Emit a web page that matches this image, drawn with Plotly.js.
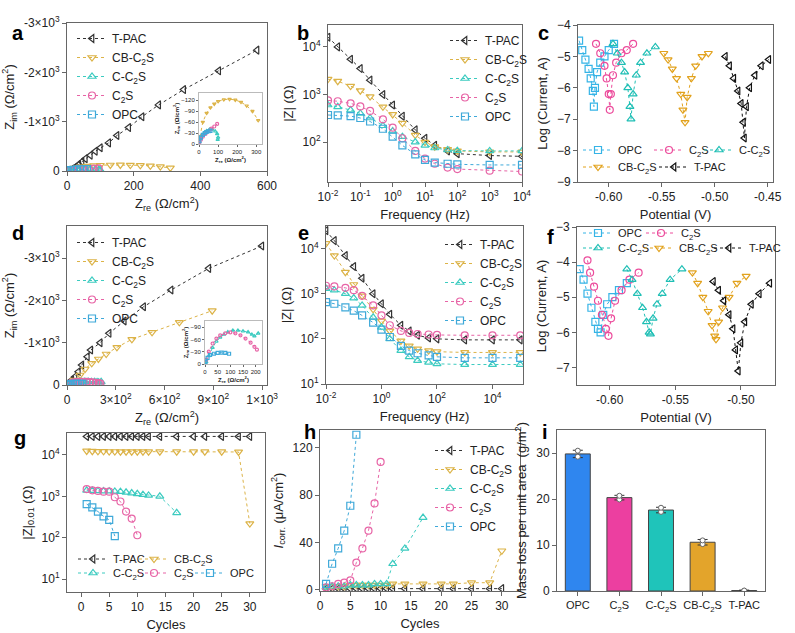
<!DOCTYPE html>
<html>
<head>
<meta charset="utf-8">
<script src="https://cdn.plot.ly/plotly-3.0.1.min.js"></script>
<style>body{margin:0;background:#fff}#fig{width:795px;height:633px}</style>
</head>
<body>
<div id="fig"></div>
<script>
// ---- data ----
const names = ['T-PAC', 'CB-C<sub>2</sub>S', 'C-C<sub>2</sub>S', 'C<sub>2</sub>S', 'OPC'];

// a: Nyquist, 28 d
const aTpacRe = [15, 25, 35, 45, 55, 70, 85, 100, 125, 150, 185, 225, 275, 350, 455, 570];
const aTpacIm = [-40, -80, -130, -190, -250, -320, -400, -470, -570, -720, -880, -1100, -1340, -1650, -2030, -2450];
const aCbRe = [5, 20, 40, 60, 80, 100, 130, 160, 190, 220, 250, 280, 310];
const aCbIm = [-20, -60, -85, -100, -110, -117, -122, -123, -121, -115, -105, -90, -65];
const aCRe = [2, 10, 20, 30, 40, 55, 70, 85, 95, 100, 98];
const aCIm = [-5, -15, -25, -32, -36, -40, -40, -35, -28, -18, -12];
const aC2sRe = [2, 10, 20, 35, 50, 65, 80, 95];
const aC2sIm = [-5, -12, -20, -28, -35, -42, -48, -55];
const aOpcRe = [2, 10, 20, 30, 40, 50, 60];
const aOpcIm = [-8, -18, -25, -30, -33, -35, -36];

// d: Nyquist, after cycles
const dTpacRe = [29, 49, 70, 91, 125, 146, 204, 259, 352, 471, 640, 872, 1198];
const dTpacIm = [-118, -197, -315, -473, -670, -827, -1000, -1222, -1513, -1851, -2246, -2758, -3286];
const dCbRe = [43, 80, 111, 152, 193, 241, 307, 399, 523, 691, 893];
const dCbIm = [-118, -236, -378, -513, -615, -733, -891, -1080, -1246, -1482, -1757];
const dCRe = [5, 15, 30, 45, 60, 75, 90, 110, 130, 150, 170, 185, 195, 210];
const dCIm = [-5, -20, -40, -55, -65, -72, -78, -82, -82, -80, -78, -72, -68, -75];
const dC2sRe = [5, 15, 30, 45, 60, 80, 100, 120, 140, 160, 180, 195, 205];
const dC2sIm = [-10, -30, -50, -62, -70, -75, -77, -75, -70, -62, -52, -42, -35];
const dOpcRe = [2, 10, 20, 35, 50, 65, 80, 95];
const dOpcIm = [-5, -15, -22, -25, -27, -28, -27, -25];

// b: Bode
const bFreq = [0.01, 0.02, 0.05, 0.1, 0.2, 0.5, 1, 2, 5, 10, 20, 50, 100, 1000, 10000];
const bTpac = [16000, 10000, 5500, 3500, 2000, 1000, 600, 350, 180, 120, 85, 65, 57, 52, 50];
const bCb = [2100, 1900, 1500, 1200, 900, 550, 380, 250, 140, 100, 80, 70, 65, 62, 62];
const bC = [600, 550, 470, 400, 320, 220, 170, 130, 100, 85, 75, 68, 66, 65, 65];
const bC2s = [750, 720, 650, 560, 450, 300, 200, 120, 65, 45, 35, 29, 27, 25, 24];
const bOpc = [370, 365, 350, 320, 270, 190, 130, 85, 55, 42, 37, 35, 34, 33, 33];

// e: Bode
const eFreq = [0.01, 0.02, 0.05, 0.1, 0.2, 0.5, 1, 2, 5, 10, 20, 50, 100, 1000, 10000, 100000];
const eTpac = [25000, 15000, 7000, 4000, 2200, 1000, 600, 350, 200, 150, 120, 105, 100, 95, 95, 95];
const eCb = [13000, 7000, 3000, 1600, 900, 450, 250, 150, 90, 70, 60, 55, 52, 50, 50, 50];
const eC = [1300, 1200, 1000, 800, 550, 300, 180, 100, 55, 40, 33, 30, 28, 27, 27, 27];
const eC2s = [1500, 1450, 1350, 1200, 900, 550, 330, 200, 150, 135, 128, 125, 122, 120, 120, 120];
const eOpc = [650, 600, 500, 420, 330, 230, 160, 110, 70, 55, 48, 43, 40, 38, 38, 38];

// c: Tafel
const cOpcV = [-0.628, -0.625, -0.622, -0.619, -0.617, -0.615, -0.614, -0.613, -0.611, -0.608, -0.604, -0.600, -0.595];
const cOpcI = [-4.5, -4.8, -5.1, -5.4, -5.7, -6.1, -6.6, -6.0, -5.5, -5.2, -5.0, -4.8, -4.6];
const cC2sV = [-0.612, -0.608, -0.604, -0.602, -0.600, -0.599, -0.598, -0.596, -0.593, -0.588, -0.583, -0.577];
const cC2sI = [-4.6, -4.9, -5.3, -5.7, -6.2, -6.7, -6.2, -5.6, -5.2, -4.9, -4.8, -4.6];
const cCV = [-0.596, -0.592, -0.588, -0.585, -0.582, -0.580, -0.579, -0.577, -0.574, -0.570, -0.564, -0.556];
const cCI = [-4.6, -4.9, -5.2, -5.5, -6.0, -6.6, -7.0, -6.2, -5.6, -5.2, -4.9, -4.7];
const cCbV = [-0.548, -0.544, -0.540, -0.536, -0.532, -0.530, -0.528, -0.526, -0.522, -0.518, -0.512, -0.506];
const cCbI = [-4.9, -5.1, -5.4, -5.7, -6.2, -6.7, -7.1, -6.3, -5.7, -5.3, -5.0, -4.9];
const cTpacV = [-0.490, -0.486, -0.482, -0.478, -0.475, -0.473, -0.472, -0.470, -0.467, -0.462, -0.456, -0.449];
const cTpacI = [-5.0, -5.3, -5.7, -6.1, -6.5, -7.1, -7.6, -6.6, -6.0, -5.6, -5.3, -5.1];

// f: Tafel
const fOpcV = [-0.623, -0.620, -0.617, -0.614, -0.611, -0.609, -0.607, -0.605, -0.602, -0.598, -0.593, -0.587];
const fOpcI = [-4.2, -4.5, -4.9, -5.3, -5.7, -5.9, -6.0, -5.5, -5.2, -5.0, -4.8, -4.6];
const fC2sV = [-0.617, -0.615, -0.612, -0.609, -0.606, -0.603, -0.601, -0.599, -0.596, -0.591, -0.585, -0.578];
const fC2sI = [-3.95, -4.3, -4.7, -5.1, -5.5, -5.9, -6.1, -5.6, -5.1, -4.8, -4.5, -4.3];
const fCV = [-0.587, -0.583, -0.579, -0.575, -0.572, -0.570, -0.569, -0.567, -0.564, -0.560, -0.554, -0.545];
const fCI = [-4.2, -4.5, -4.9, -5.3, -5.7, -6.0, -6.05, -5.6, -5.2, -4.9, -4.5, -4.2];
const fCbV = [-0.537, -0.533, -0.529, -0.525, -0.522, -0.520, -0.519, -0.517, -0.514, -0.509, -0.503, -0.496];
const fCbI = [-4.3, -4.6, -5.0, -5.4, -5.8, -6.1, -6.2, -5.7, -5.3, -5.0, -4.6, -4.4];
const fTpacV = [-0.521, -0.517, -0.513, -0.509, -0.506, -0.504, -0.502, -0.500, -0.497, -0.492, -0.486, -0.478];
const fTpacI = [-4.55, -4.8, -5.1, -5.5, -5.9, -6.5, -7.1, -6.3, -5.7, -5.2, -4.9, -4.6];

// g, h: evolution with cycles
const cycLong = [1, 2, 3, 4, 5, 6, 7, 8, 9, 10, 11, 12, 14, 17, 20, 22, 25, 28, 30];
const cycC = [1, 2, 3, 4, 5, 6, 7, 8, 9, 10, 11, 12, 14, 17];
const cycC2s = [1, 2, 3, 4, 5, 6, 7, 8, 9, 10];
const cycOpc = [1, 2, 3, 4, 5, 6];
const gTpac = [28000, 28000, 28000, 28000, 28000, 28000, 28000, 28000, 28000, 28000, 28000, 28000, 28000, 28000, 28000, 28000, 28000, 28000, 28000];
const gCb = [12500, 12300, 12200, 12200, 12100, 12100, 12000, 12000, 12000, 12000, 12000, 12000, 12000, 12000, 12000, 12000, 12000, 11800, 220];
const gC = [1400, 1380, 1350, 1340, 1330, 1320, 1300, 1250, 1200, 1150, 1100, 1050, 1000, 400];
const gC2s = [1500, 1400, 1350, 1300, 1300, 950, 750, 430, 290, 115];
const gOpc = [650, 540, 430, 330, 270, 110];
const hTpac = [1, 1, 1, 1, 1, 1, 1, 1, 1, 1, 1, 1, 1, 1, 1, 1, 1, 1, 1];
const hCb = [3, 3, 3, 3, 4, 4, 4, 4, 4, 4, 4, 5, 5, 5, 5, 5, 6, 6, 33];
const hC = [2, 3, 3, 3, 4, 4, 4, 4, 5, 5, 5, 22, 35, 61];
const hC2s = [2, 3, 5, 6, 8, 23, 35, 50, 73, 108];
const hOpc = [5, 22, 35, 50, 71, 131];

// i: mass loss
const iCats = ['OPC', 'C<sub>2</sub>S', 'C-C<sub>2</sub>S', 'CB-C<sub>2</sub>S', 'T-PAC'];
const iMass = [29.8, 20.3, 17.6, 10.6, 0.1];
const iErr = [0.8, 0.5, 0.6, 0.6, 0.1];
const iRep1 = [29.2, 19.9, 17.2, 10.2, 0.05];
const iRep2 = [30.5, 20.7, 18.1, 11.0, 0.1];

// ---- styling ----
const col = { tpac: '#333333', cb: '#dcb347', c: '#3ccbc0', c2s: '#e764a6', opc: '#3fa9d9' };
const tcol = { tpac: '#111111', cb: '#e2a21d', c: '#1fbfb5', c2s: '#ec4c9c', opc: '#36b4e6' };
const sym = { tpac: 'triangle-left-open', cb: 'triangle-down-open', c: 'triangle-up-open', c2s: 'circle-open', opc: 'square-open' };
const W = 795, H = 633;
const xd = (a, b) => [a / W, b / W];
const yd = (t, b) => [1 - b / H, 1 - t / H];

const legends = {};
const legBase = { bgcolor: 'rgba(0,0,0,0)', font: { size: 12 }, itemwidth: 30, tracegroupgap: 0, xanchor: 'left', yanchor: 'top' };
const leg = (x, y, extra) => Object.assign({}, legBase, { x: x / W, y: 1 - y / H }, extra);
let legN = 20;
// single-entry legend placed at pixel x (line start), y (row centre)
function spot(x, y) {
  const id = 'legend' + (legN++);
  legends[id] = leg(x - 4, y, { yanchor: 'middle', font: { size: 11 } });
  return id;
}

const traces = [];
function add(ax, lg, key, name, x, y, opt) {
  opt = opt || {};
  traces.push({
    x: x, y: y, name: name, type: 'scatter', mode: 'lines+markers',
    xaxis: 'x' + ax, yaxis: 'y' + ax,
    legend: lg || undefined, showlegend: !!lg,
    line: { color: (opt.c || col)[key], width: 1, dash: 'dot' },
    marker: { symbol: sym[key], size: opt.size || 7, color: (opt.c || col)[key], line: { width: 1.2 } }
  });
}

// a + inset
add('', 'legend', 'tpac', names[0], aTpacRe, aTpacIm);
add('', 'legend', 'cb', names[1], aCbRe, aCbIm);
add('', 'legend', 'c', names[2], aCRe, aCIm);
add('', 'legend', 'c2s', names[3], aC2sRe, aC2sIm);
add('', 'legend', 'opc', names[4], aOpcRe, aOpcIm);
add('10', null, 'cb', '', aCbRe, aCbIm, { size: 3 });
add('10', null, 'c', '', aCRe, aCIm, { size: 3 });
add('10', null, 'c2s', '', aC2sRe, aC2sIm, { size: 3 });
add('10', null, 'opc', '', aOpcRe, aOpcIm, { size: 3 });
// b
add('2', 'legend2', 'tpac', names[0], bFreq, bTpac);
add('2', 'legend2', 'cb', names[1], bFreq, bCb);
add('2', 'legend2', 'c', names[2], bFreq, bC);
add('2', 'legend2', 'c2s', names[3], bFreq, bC2s);
add('2', 'legend2', 'opc', names[4], bFreq, bOpc);
// c
add('3', spot(582, 150), 'opc', 'OPC', cOpcV, cOpcI, { c: tcol });
add('3', spot(653, 150), 'c2s', 'C<sub>2</sub>S', cC2sV, cC2sI, { c: tcol });
add('3', spot(703, 150), 'c', 'C-C<sub>2</sub>S', cCV, cCI, { c: tcol });
add('3', spot(582, 167), 'cb', 'CB-C<sub>2</sub>S', cCbV, cCbI, { c: tcol });
add('3', spot(658, 167), 'tpac', 'T-PAC', cTpacV, cTpacI, { c: tcol });
// d + inset
add('4', 'legend4', 'tpac', names[0], dTpacRe, dTpacIm);
add('4', 'legend4', 'cb', names[1], dCbRe, dCbIm);
add('4', 'legend4', 'c', names[2], dCRe, dCIm);
add('4', 'legend4', 'c2s', names[3], dC2sRe, dC2sIm);
add('4', 'legend4', 'opc', names[4], dOpcRe, dOpcIm);
add('11', null, 'c', '', dCRe, dCIm, { size: 3 });
add('11', null, 'c2s', '', dC2sRe, dC2sIm, { size: 3 });
add('11', null, 'opc', '', dOpcRe, dOpcIm, { size: 3 });
// e
add('5', 'legend5', 'tpac', names[0], eFreq, eTpac);
add('5', 'legend5', 'cb', names[1], eFreq, eCb);
add('5', 'legend5', 'c', names[2], eFreq, eC);
add('5', 'legend5', 'c2s', names[3], eFreq, eC2s);
add('5', 'legend5', 'opc', names[4], eFreq, eOpc);
// f
add('6', spot(582, 233), 'opc', 'OPC', fOpcV, fOpcI, { c: tcol });
add('6', spot(645, 233), 'c2s', 'C<sub>2</sub>S', fC2sV, fC2sI, { c: tcol });
add('6', spot(582, 248), 'c', 'C-C<sub>2</sub>S', fCV, fCI, { c: tcol });
add('6', spot(643, 248), 'cb', 'CB-C<sub>2</sub>S', fCbV, fCbI, { c: tcol });
add('6', spot(713, 248), 'tpac', 'T-PAC', fTpacV, fTpacI, { c: tcol });
// g
add('7', spot(77, 559), 'tpac', names[0], cycLong, gTpac);
add('7', spot(138, 559), 'cb', names[1], cycLong, gCb);
add('7', spot(77, 573), 'c', names[2], cycC, gC);
add('7', spot(138, 573), 'c2s', names[3], cycC2s, gC2s);
add('7', spot(194, 573), 'opc', names[4], cycOpc, gOpc);
// h
add('8', 'legend8', 'tpac', names[0], cycLong, hTpac);
add('8', 'legend8', 'cb', names[1], cycLong, hCb);
add('8', 'legend8', 'c', names[2], cycC, hC);
add('8', 'legend8', 'c2s', names[3], cycC2s, hC2s);
add('8', 'legend8', 'opc', names[4], cycOpc, hOpc);
// i
traces.push({
  type: 'bar', x: iCats, y: iMass, xaxis: 'x9', yaxis: 'y9', showlegend: false, width: 0.6,
  marker: { color: ['#2f86ef', '#ec3fa0', '#1fc4ba', '#e3a42b', '#999999'], line: { color: '#444', width: 1 } },
  error_y: { type: 'data', array: iErr, color: '#333', thickness: 1, width: 5 }
});
[iRep1, iRep2].forEach(r => traces.push({
  type: 'scatter', mode: 'markers', x: iCats, y: r, xaxis: 'x9', yaxis: 'y9', showlegend: false,
  marker: { color: '#fff', size: 5, line: { color: '#666', width: 1 } }
}));

const font = { family: 'Liberation Sans, Arial, sans-serif', size: 12, color: '#222' };
function ax(dom, extra) {
  return Object.assign({
    domain: dom, showline: true, mirror: true, linecolor: '#666', linewidth: 1, automargin: false,
    ticks: 'outside', ticklen: 4, tickcolor: '#666', showgrid: false, zeroline: false,
    tickfont: { size: 12 }, title: { font: { size: 13 }, standoff: 6 }
  }, extra);
}
const T = (t) => ({ text: t, font: { size: 13 }, standoff: 6 });
const pow = (v) => v.map(p => '10<sup>' + p + '</sup>');
const zimVals = [0, -1000, -2000, -3000];
const zimText = ['0', '-1×10<sup>3</sup>', '-2×10<sup>3</sup>', '-3×10<sup>3</sup>'];
const inset = (dom, anc, extra) => ax(dom, Object.assign({ anchor: anc, tickfont: { size: 6, family: 'Liberation Sans', color: '#222' }, ticklen: 2, linecolor: '#bbb' }, extra));
const insT = (t) => ({ text: '<b>' + t + '</b>', font: { size: 6 }, standoff: 1 });

const layout = Object.assign({
  width: W, height: H, margin: { l: 0, r: 0, t: 0, b: 0, autoexpand: false }, font: font,
  paper_bgcolor: '#fff', plot_bgcolor: 'rgba(0,0,0,0)',
  xaxis: ax(xd(67, 267), { anchor: 'y', range: [0, 600], dtick: 200, title: T('Z<sub>re</sub> (Ω/cm<sup>2</sup>)') }),
  yaxis: ax(yd(23, 171), { anchor: 'x', range: [0, -3000], tickvals: zimVals, ticktext: zimText, title: T('Z<sub>im</sub> (Ω/cm<sup>2</sup>)') }),
  xaxis2: ax(xd(328, 522), { anchor: 'y2', type: 'log', range: [-2, 4], tickvals: [0.01, 0.1, 1, 10, 100, 1000, 10000], ticktext: pow([-2, -1, 0, 1, 2, 3, 4]), title: T('Frequency (Hz)') }),
  yaxis2: ax(yd(25, 182), { anchor: 'x2', type: 'log', range: [1.16, 4.46], tickvals: [100, 1000, 10000], ticktext: pow([2, 3, 4]), title: T('|Z| (Ω)') }),
  xaxis3: ax(xd(578, 773), { anchor: 'y3', range: [-0.629, -0.445], tickvals: [-0.6, -0.55, -0.5, -0.45], ticktext: ['-0.60', '-0.55', '-0.50', '-0.45'], title: T('Potential (V)') }),
  yaxis3: ax(yd(25, 182), { anchor: 'x3', range: [-9, -4], dtick: 1, title: T('Log (Current, A)') }),
  xaxis4: ax(xd(67, 267), { anchor: 'y4', range: [0, 1230], tickvals: [0, 300, 600, 900, 1200], ticktext: ['0', '3×10<sup>2</sup>', '6×10<sup>2</sup>', '9×10<sup>2</sup>', '1×10<sup>3</sup>'], title: T('Z<sub>re</sub> (Ω/cm<sup>2</sup>)') }),
  yaxis4: ax(yd(226, 385), { anchor: 'x4', range: [0, -3760], tickvals: zimVals, ticktext: zimText, title: T('Z<sub>im</sub> (Ω/cm<sup>2</sup>)') }),
  xaxis5: ax(xd(326, 523), { anchor: 'y5', type: 'log', range: [-2, 5.1], tickvals: [0.01, 1, 100, 10000], ticktext: pow([-2, 0, 2, 4]), title: T('Frequency (Hz)') }),
  yaxis5: ax(yd(226, 384), { anchor: 'x5', type: 'log', range: [1, 4.5], tickvals: [10, 100, 1000, 10000], ticktext: pow([1, 2, 3, 4]), title: T('|Z| (Ω)') }),
  xaxis6: ax(xd(577, 775), { anchor: 'y6', range: [-0.625, -0.474], tickvals: [-0.6, -0.55, -0.5], ticktext: ['-0.60', '-0.55', '-0.50'], title: T('Potential (V)') }),
  yaxis6: ax(yd(227, 385), { anchor: 'x6', range: [-7.5, -3], dtick: 1, title: T('Log (Current, A)') }),
  xaxis7: ax(xd(67, 265), { anchor: 'y7', range: [-2.5, 32.7], dtick: 5, title: T('Cycles') }),
  yaxis7: ax(yd(433, 592), { anchor: 'x7', type: 'log', range: [0.69, 4.53], tickvals: [10, 100, 1000, 10000], ticktext: pow([1, 2, 3, 4]), title: T('|Z|<sub>0.01</sub> (Ω)') }),
  xaxis8: ax(xd(320, 520), { anchor: 'y8', range: [0, 33], dtick: 5, title: T('Cycles') }),
  yaxis8: ax(yd(430, 591), { anchor: 'x8', range: [-1, 135], tickvals: [0, 40, 80, 120], title: T('<i>I</i><sub>corr.</sub> (μA/cm<sup>2</sup>)') }),
  xaxis9: ax(xd(557, 765), { anchor: 'y9', type: 'category', tickangle: 0, tickfont: { size: 11 } }),
  yaxis9: ax(yd(430, 591), { anchor: 'x9', range: [0, 35], tickvals: [0, 10, 20, 30], title: T('Mass loss per unit area  (g/m<sup>2</sup>)') }),
  xaxis10: inset(xd(199, 262), 'y10', { range: [0, 330], tickvals: [0, 100, 200, 300], title: insT('Z<sub>re</sub> (Ω/cm<sup>2</sup>)') }),
  yaxis10: inset(yd(93, 144), 'x10', { range: [0, -140], tickvals: [0, -30, -60, -90, -120], title: insT('Z<sub>im</sub> (Ω/cm<sup>2</sup>)') }),
  xaxis11: inset(xd(205, 262), 'y11', { range: [0, 225], tickvals: [0, 50, 100, 150, 200], tickangle: 0, title: insT('Z<sub>re</sub> (Ω/cm<sup>2</sup>)') }),
  yaxis11: inset(yd(321, 364), 'x11', { range: [0, -105], tickvals: [0, -30, -60, -90], title: insT('Z<sub>im</sub> (Ω/cm<sup>2</sup>)') }),
  legend: leg(72, 24),
  legend2: leg(445, 26),
  legend4: leg(72, 228),
  legend5: leg(440, 230),
  legend8: leg(430, 436),
  annotations: [
    ['a', 18, 33], ['b', 303, 33], ['c', 543, 33],
    ['d', 18, 233], ['e', 303, 233], ['f', 550, 237],
    ['g', 20, 438], ['h', 310, 432], ['i', 545, 432]
  ].map(([t, x, y]) => ({ text: '<b>' + t + '</b>', x: x / W, y: 1 - y / H, xref: 'paper', yref: 'paper', showarrow: false, font: { size: 20, color: '#000' }, xanchor: 'center', yanchor: 'middle' }))
}, legends);

Plotly.newPlot('fig', traces, layout, { displayModeBar: false, staticPlot: true });
</script>
</body>
</html>
